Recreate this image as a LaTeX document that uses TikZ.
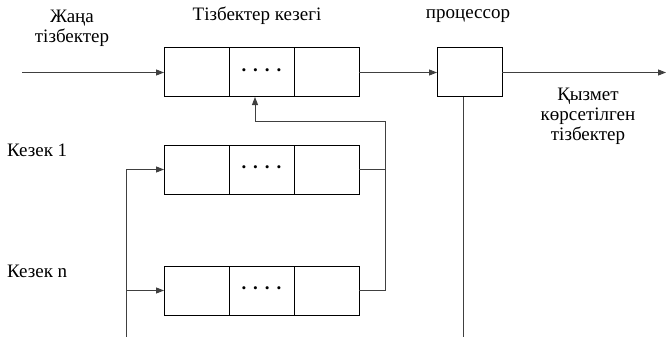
\documentclass[tikz,border=0pt]{standalone}
\usepackage{fontspec}
\setmainfont{Liberation Serif}
\usetikzlibrary{arrows.meta,calc}
\begin{document}
\begin{tikzpicture}[x=1pt,y=-1pt,
  font=\fontsize{19}{21}\selectfont,
  cell/.style={draw=black,line width=1pt,minimum width=65pt,minimum height=49pt,inner sep=0pt,outer sep=0pt},
  lbl/.style={inner sep=0pt,align=center},
  wire/.style={draw=black!75,line width=1pt},
  flow/.style={wire,-{Triangle[length=8pt,width=6pt]}}]
\useasboundingbox (0,0) rectangle (667,337);

\newcommand{\dotrow}{\textbf{.\hspace{7pt}.\hspace{7pt}.\hspace{7pt}.}}

% queue of incoming chains
\node[cell] (q0a) at (196.5,72.5) {};
\node[cell,anchor=west] (q0b) at (q0a.east) {\raisebox{4pt}{\dotrow}};
\node[cell,anchor=west] (q0c) at (q0b.east) {};

% queue 1
\node[cell] (q1a) at (196.5,169.5) {};
\node[cell,anchor=west] (q1b) at (q1a.east) {\raisebox{4pt}{\dotrow}};
\node[cell,anchor=west] (q1c) at (q1b.east) {};

% queue n
\node[cell] (qna) at (196.5,290.5) {};
\node[cell,anchor=west] (qnb) at (qna.east) {\raisebox{4pt}{\dotrow}};
\node[cell,anchor=west] (qnc) at (qnb.east) {};

% processor
\node[cell] (proc) at (469.5,72.5) {};

% labels
\node[lbl] (tnew) at (72,28) {Жаңа\\[-1pt]тізбектер};
\node[lbl] (tq) at (257,16) {Тізбектер кезегі};
\node[lbl] (tp) at (468,16) {процессор};
\node[lbl] (tdone) at (588,116) {Қызмет\\[-1pt]көрсетілген\\[-1pt]тізбектер};
\node[lbl,anchor=west] (tk1) at (7,150) {Кезек 1};
\node[lbl,anchor=west] (tkn) at (7,271) {Кезек n};

% connection points
\coordinate (inp) at (22,72.5);
\coordinate (outp) at (666,72.5);
\coordinate (pbot) at (463,337);
\coordinate (src) at (126,337);
\coordinate (fbr) at (385,121);
\coordinate (fbl) at (255,121);

% main flow
\draw[flow] (inp) -- (q0a.west);
\draw[flow] (q0c.east) -- (proc.west);
\draw[flow] (proc.east) -- (outp);
\draw[wire] (proc.south -| pbot) -- (pbot);

% return path into the first queue
\draw[flow] (qnc.east) -| (fbr) -- (fbl) -- (fbl |- q0b.south);
\draw[wire] (q1c.east) -- (q1c.east -| fbr);

% feeding queues 1..n
\draw[flow] (src) |- (q1a.west);
\draw[flow] (src |- qna.west) -- (qna.west);
\end{tikzpicture}
\end{document}
